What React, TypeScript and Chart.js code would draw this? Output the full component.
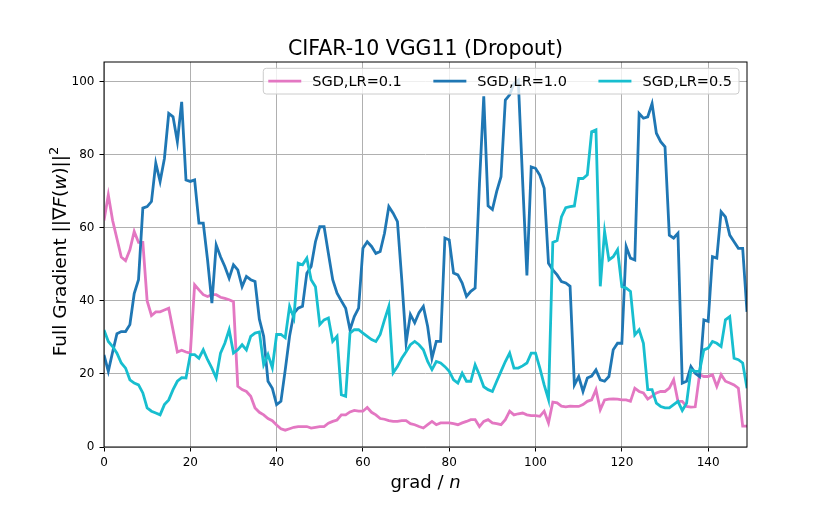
import React, { useEffect, useRef } from "react";
import Chart from "chart.js/auto";

// values, one per grad step (0..149)
const sgdLr01: number[] = [
  62, 69, 62, 57, 52, 51, 54, 59, 56, 56, 40, 36, 37, 37, 37.5, 38, 32, 26, 26.5, 26,
  25.7, 44.4, 43, 41.7, 41.2, 41.7, 41.7, 41, 40.7, 40.3, 39.8, 16.6, 15.7, 15.2, 13.9, 10.7, 9.5, 8.8, 7.8, 7.2,
  6, 5, 4.6, 5, 5.4, 5.6, 5.6, 5.6, 5.2, 5.4, 5.6, 5.6, 6.5, 7, 7.4, 8.8, 8.8, 9.6, 10, 9.8,
  9.8, 10.8, 9.5, 8.8, 7.8, 7.6, 7.2, 7, 7, 7.2, 7.2, 6.4, 6.1, 5.6, 5.2, 6.1, 7, 6.1, 6.6, 6.6,
  6.6, 6.4, 6.1, 6.6, 7, 7.5, 7.5, 5.6, 7, 7.5, 6.6, 6.4, 6.1, 7.5, 9.8, 8.8, 9.1, 9.3, 8.8, 8.6,
  8.6, 8.4, 9.8, 6.6, 12.3, 12.1, 11.2, 11, 11.2, 11.1, 11.1, 11.6, 12.5, 12.9, 15.7, 10.2, 12.9, 13.1, 13.2, 13.1,
  12.9, 12.9, 12.5, 16.1, 15.2, 14.8, 13.1, 13.9, 14.8, 15.2, 15.2, 16.1, 18.4, 12.5, 12.5, 11.1, 10.9, 11, 19.8, 19.3,
  19.3, 19.8, 16.6, 19.8, 18, 17.5, 17, 16.1, 5.7, 5.7,
];

const sgdLr10: number[] = [
  25.2, 20.7, 26, 31, 31.6, 31.6, 33.5, 42, 45.8, 65.4, 65.8, 67.2, 77.7, 72.7, 79, 91.3, 90.4, 83.6, 94.5, 73.1,
  72.7, 73.1, 61.3, 61.3, 51.2, 39.4, 55.3, 52.1, 49.4, 46.2, 49.9, 48.5, 43.9, 46.7, 45.8, 45.3, 35, 30.3, 18, 16.1,
  11.6, 12.5, 21.1, 30.3, 36.6, 38, 38.5, 47.6, 49.4, 56.2, 60.3, 60.3, 53, 45.8, 42.1, 40, 38, 32.1, 35.7, 38,
  54.4, 56.2, 54.9, 53, 53.5, 58.5, 65.8, 64, 61.7, 45.8, 28.5, 36.3, 34, 36.8, 38.5, 33, 24.3, 28.9, 28.9, 57.2,
  56.7, 47.6, 47.1, 44.9, 41.2, 42.6, 43.5, 72, 96, 66, 65, 70, 74, 95, 96.4, 99.5, 100.4, 73, 47, 76.7,
  76.3, 74.4, 70.8, 50.3, 48.5, 47.1, 45.3, 44.9, 44, 17, 19.3, 15.2, 18.9, 19.4, 21.1, 18.4, 18, 19.3, 26.6, 28.4,
  28.4, 54.9, 51.7, 51.2, 91.3, 90, 90.4, 94, 85.9, 83.6, 82.2, 58, 57.2, 58.5, 17.5, 18, 22, 20.2, 19.3, 34.8,
  34.4, 52.1, 51.7, 64.4, 63, 58, 56.2, 54.4, 54.4, 37,
];

const sgdLr05: number[] = [
  32, 28.9, 27.5, 25.7, 23, 21.6, 18.4, 17.5, 17, 14.8, 10.7, 9.8, 9.3, 8.8, 11.6, 12.9, 15.7, 18, 19, 18.9,
  25.3, 25.3, 24.3, 26.6, 23.9, 21.6, 18.9, 25.7, 28.4, 32.1, 25.7, 26.6, 28, 26.6, 30.3, 31.2, 31.5, 22.5, 25.3, 21.7,
  30.8, 30.8, 29.9, 38.5, 35.3, 50.3, 49.9, 51.7, 45.8, 43.9, 33.5, 34.8, 35.3, 28.9, 30.3, 14.3, 13.9, 31.2, 32.1, 32.1,
  31.2, 30.3, 29.4, 28.9, 30.8, 34.8, 38.5, 20.3, 22, 24.3, 26.1, 28, 28.9, 28, 26.6, 23.4, 21.2, 23.4, 23, 22,
  20.7, 18.4, 17.5, 20.2, 18, 18, 22.5, 19.7, 16.5, 15.7, 15.2, 18, 20.7, 23.4, 25.7, 21.6, 21.6, 22.2, 23, 25.7,
  25.7, 21.6, 17, 13, 56, 56.5, 63, 65.5, 65.8, 66, 73.5, 73.5, 74.5, 86.3, 86.8, 44, 59, 51.2, 52.1, 54,
  43.9, 43.5, 42.6, 30.7, 32.1, 28.4, 15.7, 15.7, 12, 11.1, 10.7, 10.7, 11.6, 12.5, 10, 12, 21.1, 20.7, 20.7, 26.6,
  27.1, 28.9, 28.4, 27.5, 34.8, 35.7, 24.3, 23.9, 23, 16.1,
];

const seriesNames = ["SGD,LR=0.1", "SGD,LR=1.0", "SGD,LR=0.5"];
const seriesColors = ["#e377c2", "#1f77b4", "#17becf"];
const xTickStep = 20;
const yTickStep = 20;

const FONT = "'DejaVu Sans', sans-serif";

const toPoints = (vals: number[]) => vals.map((v, i) => ({ x: i, y: v }));

// title, axis labels (with italic math parts), frame and legend
const decorPlugin = {
  id: "decor",
  afterDatasetsDraw(chart: any) {
    const { ctx, chartArea } = chart;
    const { left, right, top, bottom } = chartArea;
    ctx.save();

    // frame (all four spines)
    ctx.strokeStyle = "#000";
    ctx.lineWidth = 1;
    ctx.strokeRect(left, top, right - left, bottom - top);

    ctx.fillStyle = "#000";
    ctx.textBaseline = "alphabetic";

    // title
    ctx.font = `20.5px ${FONT}`;
    ctx.textAlign = "center";
    ctx.fillText("CIFAR-10 VGG11 (Dropout)", (left + right) / 2, top - 7);

    // x label: grad / n
    const xParts = [
      { t: "grad / ", f: `18px ${FONT}` },
      { t: "n", f: `italic 18px ${FONT}` },
    ];
    drawParts(ctx, xParts, (left + right) / 2, bottom + 41);

    // y label: Full Gradient ||∇F(w)||^2
    const yParts = [
      { t: "Full Gradient ||∇", f: `18.5px ${FONT}` },
      { t: "F", f: `italic 18.5px ${FONT}` },
      { t: "(", f: `18.5px ${FONT}` },
      { t: "w", f: `italic 18.5px ${FONT}` },
      { t: ")||", f: `18.5px ${FONT}` },
      { t: "2", f: `13px ${FONT}`, sup: 8 },
    ];
    ctx.save();
    ctx.translate(left - 38, (top + bottom) / 2 - 3);
    ctx.rotate(-Math.PI / 2);
    drawParts(ctx, yParts, 0, 0);
    ctx.restore();

    // legend, upper right, three columns
    ctx.font = `14.5px ${FONT}`;
    const handleLen = 33;
    const textPad = 11;
    const colSpace = 31.5;
    const padL = 5;
    const padR = 7;
    const widths = chart.data.datasets.map((d: any) => ctx.measureText(d.label).width);
    let total = padL + padR;
    widths.forEach((w: number, i: number) => {
      total += handleLen + textPad + w + (i < widths.length - 1 ? colSpace : 0);
    });
    const boxR = right - 8;
    const boxL = boxR - total;
    const boxT = top + 6.3;
    const boxH = 25.7;
    ctx.beginPath();
    ctx.roundRect(boxL, boxT, total, boxH, 3);
    ctx.fillStyle = "rgba(255,255,255,0.8)";
    ctx.fill();
    ctx.strokeStyle = "#cccccc";
    ctx.lineWidth = 1;
    ctx.stroke();
    const midY = boxT + boxH / 2;
    let x = boxL + padL;
    chart.data.datasets.forEach((d: any, i: number) => {
      ctx.beginPath();
      ctx.strokeStyle = d.borderColor;
      ctx.lineWidth = 2.8;
      ctx.moveTo(x, midY);
      ctx.lineTo(x + handleLen, midY);
      ctx.stroke();
      ctx.fillStyle = "#000";
      ctx.textAlign = "left";
      ctx.textBaseline = "middle";
      ctx.fillText(d.label, x + handleLen + textPad, midY + 1);
      x += handleLen + textPad + widths[i] + colSpace;
    });

    ctx.restore();
  },
};

function drawParts(ctx: CanvasRenderingContext2D, parts: any[], cx: number, baseY: number) {
  let total = 0;
  parts.forEach((p) => {
    ctx.font = p.f;
    total += ctx.measureText(p.t).width;
  });
  let x = cx - total / 2;
  ctx.textAlign = "left";
  ctx.textBaseline = "alphabetic";
  parts.forEach((p) => {
    ctx.font = p.f;
    ctx.fillText(p.t, x, baseY - (p.sup || 0));
    x += ctx.measureText(p.t).width;
  });
}

const GradientChart: React.FC = () => {
  const canvasRef = useRef<HTMLCanvasElement | null>(null);
  const chartRef = useRef<Chart | null>(null);

  useEffect(() => {
    if (!canvasRef.current) return;
    if (chartRef.current) chartRef.current.destroy();

    const series = [sgdLr01, sgdLr10, sgdLr05];
    const tickFont = { family: FONT, size: 12 };

    chartRef.current = new Chart(canvasRef.current, {
      type: "line",
      data: {
        datasets: series.map((vals, i) => ({
          label: seriesNames[i],
          data: toPoints(vals),
          borderColor: seriesColors[i],
          backgroundColor: seriesColors[i],
          borderWidth: 2.8,
          pointRadius: 0,
          tension: 0,
          fill: false,
          clip: 0,
          order: series.length - 1 - i, // later series drawn on top, like matplotlib
        })),
      },
      options: {
        animation: false,
        responsive: false,
        devicePixelRatio: 1,
        layout: { padding: { left: 0, top: 62, right: 83, bottom: 0 } },
        plugins: {
          legend: { display: false },
          title: { display: false },
          tooltip: { enabled: false },
        },
        scales: {
          x: {
            type: "linear",
            min: 0,
            max: sgdLr01.length - 1,
            afterFit: (s: any) => {
              s.height = 66;
            },
            ticks: {
              stepSize: xTickStep,
              includeBounds: false,
              color: "#000",
              font: tickFont,
              padding: 4,
              maxRotation: 0,
              autoSkip: false,
            },
            grid: { color: "#b0b0b0", lineWidth: 1, tickColor: "#000", tickLength: 4.5, tickWidth: 1 },
            border: { display: false },
          },
          y: {
            min: 0,
            max: 105.4,
            afterFit: (s: any) => {
              s.width = 104;
            },
            ticks: {
              stepSize: yTickStep,
              includeBounds: false,
              color: "#000",
              font: tickFont,
              padding: 5,
            },
            grid: { color: "#b0b0b0", lineWidth: 1, tickColor: "#000", tickLength: 4.5, tickWidth: 1 },
            border: { display: false },
          },
        },
      },
      plugins: [decorPlugin],
    } as any);

    return () => {
      if (chartRef.current) {
        chartRef.current.destroy();
        chartRef.current = null;
      }
    };
  }, []);

  return <canvas ref={canvasRef} width={830} height={513} style={{ width: 830, height: 513, display: "block" }} />;
};

export default function App() {
  return (
    <div style={{ position: "fixed", left: 0, top: 0, width: 830, height: 513, background: "#fff" }}>
      <GradientChart />
    </div>
  );
}
